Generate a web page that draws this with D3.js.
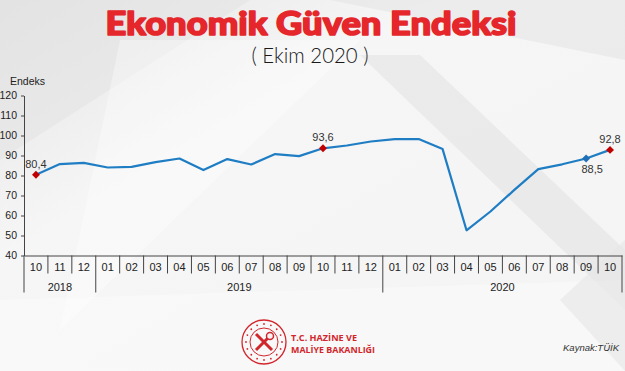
<!DOCTYPE html>
<html>
<head>
<meta charset="utf-8">
<script src="https://cdn.jsdelivr.net/npm/d3@7"></script>
<style>
  body { margin: 0; background: #f3f3f3; }
  svg { display: block; font-family: "Liberation Sans", Arial, sans-serif; }
</style>
</head>
<body>
<svg class="chart"></svg>
<script>
const months = ["10", "11", "12", "01", "02", "03", "04", "05", "06", "07", "08", "09",
    "10", "11", "12", "01", "02", "03", "04", "05", "06", "07", "08", "09", "10"];
const years = ["2018", "2018", "2018",
    "2019", "2019", "2019", "2019", "2019", "2019", "2019", "2019", "2019", "2019", "2019", "2019",
    "2020", "2020", "2020", "2020", "2020", "2020", "2020", "2020", "2020", "2020"];
const values = [80.4, 85.7, 86.3, 84.0, 84.3, 86.7, 88.5, 82.7, 88.2, 85.5, 90.7, 89.7,
    93.6, 95.0, 97.0, 98.2, 98.2, 93.2, 52.6, 62.0, 72.8, 83.2, 85.6, 88.5, 92.8];
const yTicks = [40, 50, 60, 70, 80, 90, 100, 110, 120];
// highlighted points: index, marker colour, label above/below
const highlights = [
    {i: 0, colour: "#c00000", pos: "above"},
    {i: 12, colour: "#c00000", pos: "above"},
    {i: 23, colour: "#1f6fb5", pos: "below"},
    {i: 24, colour: "#c00000", pos: "above"}
];

const width = 625, height = 371;
const svg = d3.select(".chart").attr("width", width).attr("height", height);

// background
const defs = svg.append("defs");
const grad = defs.append("linearGradient").attr("id", "bg").attr("x1", 0).attr("y1", 0).attr("x2", 1).attr("y2", 1);
grad.append("stop").attr("offset", 0).attr("stop-color", "#e4e4e4");
grad.append("stop").attr("offset", 0.35).attr("stop-color", "#f6f6f6");
grad.append("stop").attr("offset", 1).attr("stop-color", "#f4f4f4");
svg.append("rect").attr("width", width).attr("height", height).attr("fill", "url(#bg)");

const shapes = [
    {pts: [[0, 0], [250, 0], [0, 160]], fill: "#e2e2e2", op: 0.5},
    {pts: [[330, 0], [625, 0], [625, 60]], fill: "#e0e0e0", op: 0.45},
    {pts: [[360, 55], [420, 55], [625, 250], [625, 310]], fill: "#dedede", op: 0.45},
    {pts: [[120, 40], [360, 40], [60, 330]], fill: "#ffffff", op: 0.35},
    {pts: [[0, 300], [625, 280], [625, 371], [0, 371]], fill: "#ffffff", op: 0.35},
    {pts: [[560, 300], [625, 240], [625, 371]], fill: "#e6e6e6", op: 0.6}
];
svg.selectAll(".bgshape")
    .data(shapes)
    .enter().append("polygon")
    .attr("class", "bgshape")
    .attr("points", (d) => d.pts.map(p => p.join(",")).join(" "))
    .attr("fill", (d) => d.fill)
    .attr("opacity", (d) => d.op);

// titles
svg.append("text")
    .attr("x", 311).attr("y", 35)
    .attr("text-anchor", "middle")
    .attr("textLength", 411)
    .attr("lengthAdjust", "spacingAndGlyphs")
    .style("font-family", "Lato, 'Open Sans', sans-serif")
    .style("font-weight", 900)
    .style("font-size", "33px")
    .style("fill", "#e5262b")
    .style("stroke", "#e5262b")
    .style("stroke-width", 1.6)
    .style("stroke-linejoin", "round")
    .text("Ekonomik Güven Endeksi");

svg.append("text")
    .attr("x", 310).attr("y", 63)
    .attr("text-anchor", "middle")
    .attr("textLength", 117)
    .attr("lengthAdjust", "spacingAndGlyphs")
    .style("font-family", "Lato, 'Open Sans', sans-serif")
    .style("font-weight", 300)
    .style("font-size", "21px")
    .style("fill", "#1a1a1a")
    .text("( Ekim 2020 )");

// scales
const x = d3.scaleBand()
    .domain(d3.range(values.length))
    .range([24, 622])
    .padding(0);

const y = d3.scaleLinear()
    .domain([40, 120])
    .range([255.5, 95.5]);

// y axis
const yAxis = svg.append("g")
    .attr("class", "axis")
    .attr("transform", "translate(24,0)")
    .call(d3.axisLeft(y).tickValues(yTicks).tickSize(3).tickSizeOuter(0).tickPadding(4));
yAxis.selectAll("text").style("font-size", "10.5px").style("fill", "#222");
yAxis.selectAll("line, path").style("stroke", "#444");

svg.append("text")
    .attr("x", 10).attr("y", 85)
    .style("font-size", "10.5px")
    .style("fill", "#222")
    .text("Endeks");

// x axis with month labels
const xAxis = svg.append("g")
    .attr("class", "axis")
    .attr("transform", `translate(0,${y(40)})`)
    .call(d3.axisBottom(x).tickFormat((i) => months[i]).tickSize(0).tickSizeOuter(0).tickPadding(8));
xAxis.selectAll("text").style("font-size", "11px").style("fill", "#222");
xAxis.select(".domain").style("stroke", "#444");

// separators between categories, longer at year boundaries
const bounds = d3.range(values.length + 1);
svg.selectAll(".sep")
    .data(bounds)
    .enter().append("line")
    .attr("class", "sep")
    .attr("x1", (d) => d < values.length ? x(d) : x.range()[1])
    .attr("x2", (d) => d < values.length ? x(d) : x.range()[1])
    .attr("y1", y(40))
    .attr("y2", (d) => (d === 0 || d === values.length || years[d] !== years[d - 1]) ? y(40) + 37 : y(40) + 18)
    .style("stroke", "#444")
    .style("stroke-width", 1);

// year labels centred under their months
const yearGroups = d3.groups(d3.range(values.length), (i) => years[i]);
svg.selectAll(".year")
    .data(yearGroups)
    .enter().append("text")
    .attr("class", "year")
    .attr("x", (d) => (x(d[1][0]) + x(d[1][d[1].length - 1]) + x.bandwidth()) / 2)
    .attr("y", y(40) + 35)
    .attr("text-anchor", "middle")
    .style("font-size", "11px")
    .style("fill", "#222")
    .text((d) => d[0]);

// line
const line = d3.line()
    .x((d, i) => x(i) + x.bandwidth() / 2)
    .y((d) => y(d));

svg.append("path")
    .datum(values)
    .attr("d", line)
    .style("fill", "none")
    .style("stroke", "#1f7dc4")
    .style("stroke-width", 2.2)
    .style("stroke-linejoin", "round");

// markers + labels
svg.selectAll(".marker")
    .data(highlights)
    .enter().append("path")
    .attr("class", "marker")
    .attr("d", d3.symbol().type(d3.symbolDiamond2).size(40))
    .attr("transform", (d) => `translate(${x(d.i) + x.bandwidth() / 2},${y(values[d.i])})`)
    .style("fill", (d) => d.colour);

svg.selectAll(".vlabel")
    .data(highlights)
    .enter().append("text")
    .attr("class", "vlabel")
    .attr("x", (d) => x(d.i) + x.bandwidth() / 2 + (d.pos === "below" ? 6 : 0))
    .attr("y", (d) => y(values[d.i]) + (d.pos === "below" ? 14 : -7))
    .attr("text-anchor", "middle")
    .style("font-size", "11px")
    .style("fill", "#333")
    .text((d) => String(values[d.i]).replace(".", ","));

// logo
const logo = svg.append("g").attr("transform", "translate(264,342)");
logo.append("circle").attr("r", 22).style("fill", "none").style("stroke", "#d1262c").style("stroke-width", 1.3);
logo.append("circle").attr("r", 14).style("fill", "none").style("stroke", "#d1262c").style("stroke-width", 1);
logo.selectAll(".dot")
    .data(d3.range(16))
    .enter().append("circle")
    .attr("cx", (d) => 18 * Math.cos(d / 16 * 2 * Math.PI))
    .attr("cy", (d) => 18 * Math.sin(d / 16 * 2 * Math.PI))
    .attr("r", 0.9)
    .style("fill", "#d1262c");
logo.append("line").attr("x1", -8).attr("y1", -8).attr("x2", 8).attr("y2", 8)
    .style("stroke", "#d1262c").style("stroke-width", 3);
logo.append("line").attr("x1", 8).attr("y1", -8).attr("x2", -8).attr("y2", 8)
    .style("stroke", "#d1262c").style("stroke-width", 3);
logo.append("circle").attr("cx", 6).attr("cy", -6).attr("r", 3.5)
    .style("fill", "#f4f4f4").style("stroke", "#d1262c").style("stroke-width", 1.5);

svg.append("text")
    .attr("x", 291).attr("y", 341)
    .attr("textLength", 66)
    .attr("lengthAdjust", "spacingAndGlyphs")
    .style("font-family", "'Open Sans', sans-serif")
    .style("font-weight", 700)
    .style("font-size", "9px")
    .style("fill", "#d1262c")
    .text("T.C. HAZİNE VE");
svg.append("text")
    .attr("x", 291).attr("y", 353)
    .attr("textLength", 84)
    .attr("lengthAdjust", "spacingAndGlyphs")
    .style("font-family", "'Open Sans', sans-serif")
    .style("font-weight", 700)
    .style("font-size", "9px")
    .style("fill", "#d1262c")
    .text("MALİYE BAKANLIĞI");

svg.append("text")
    .attr("x", 619).attr("y", 351)
    .attr("text-anchor", "end")
    .style("font-size", "9.5px")
    .style("font-style", "italic")
    .style("fill", "#333")
    .text("Kaynak:TÜİK");
</script>
</body>
</html>
